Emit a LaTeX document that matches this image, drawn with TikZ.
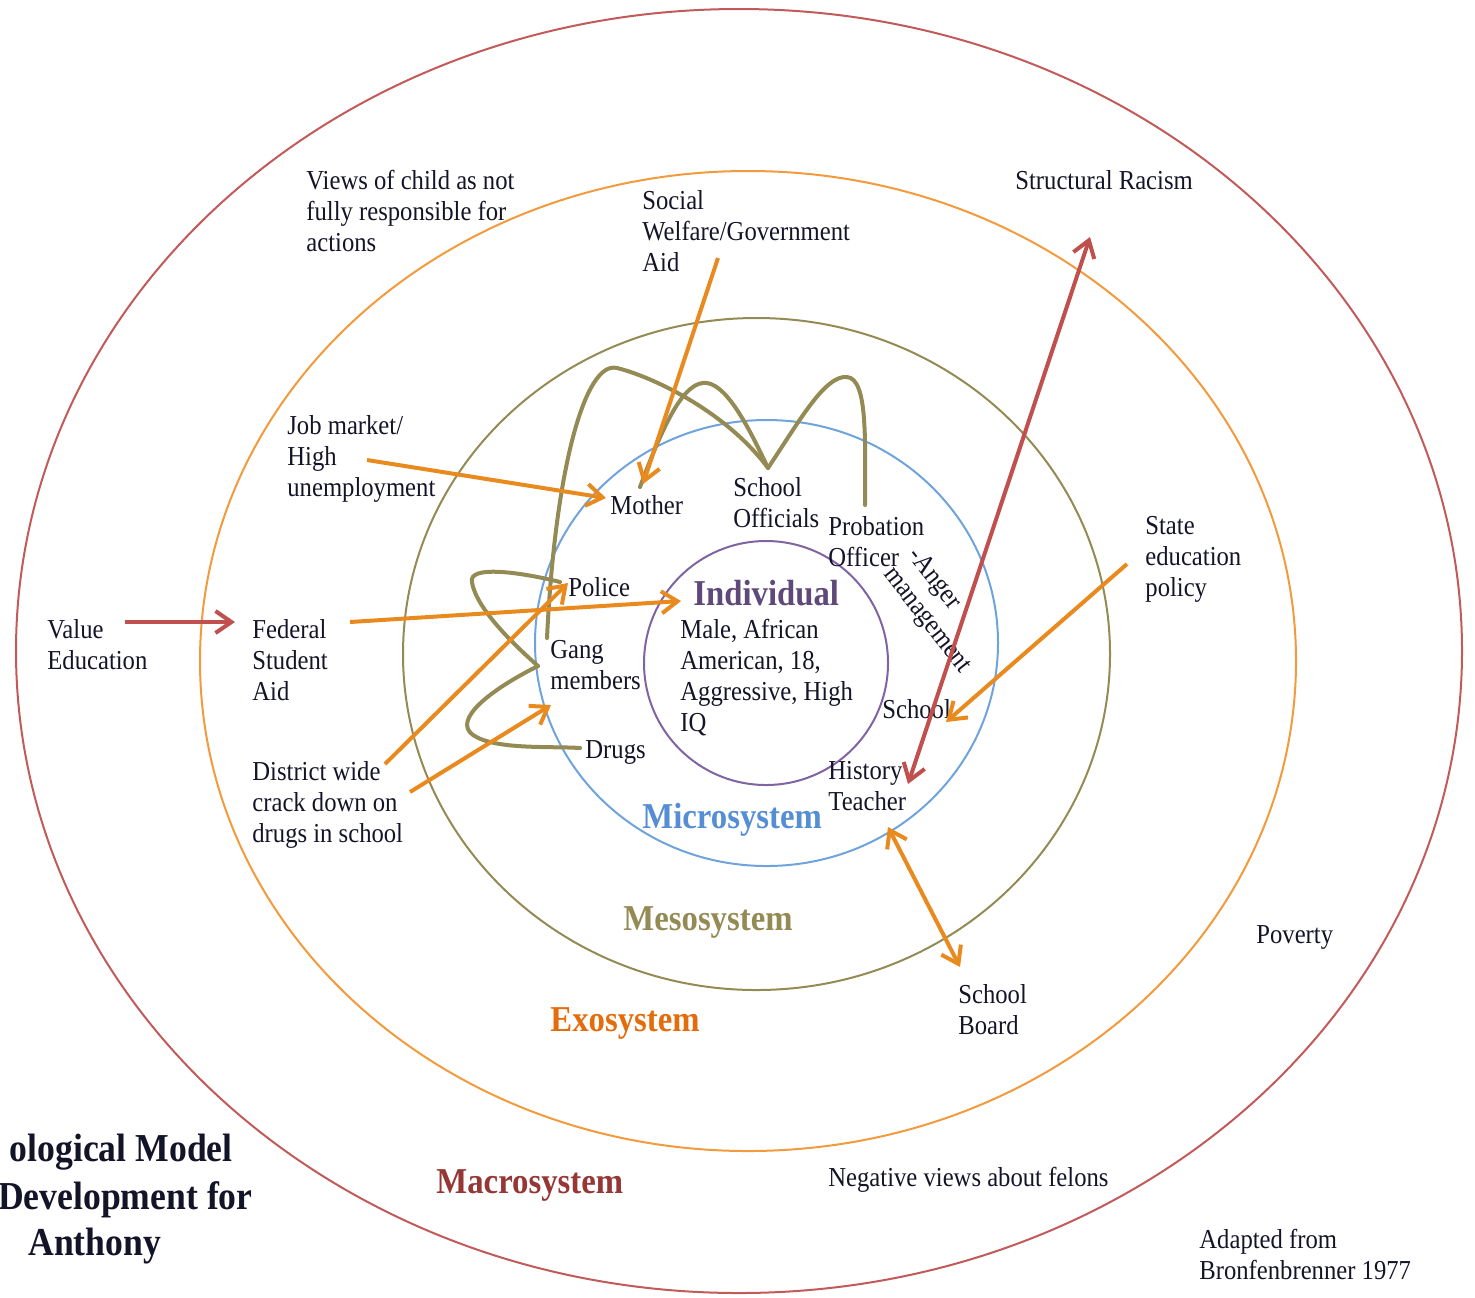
\documentclass[tikz,border=0pt]{standalone}
\usepackage{fontspec}
\setmainfont{Liberation Serif}[FakeStretch=0.9]
\usetikzlibrary{arrows.meta}
\definecolor{macroC}{HTML}{C25A5A}
\definecolor{macroT}{HTML}{953735}
\definecolor{redA}{HTML}{C0504D}
\definecolor{exoC}{HTML}{F29A3C}
\definecolor{exoT}{HTML}{E46C0A}
\definecolor{orangeA}{HTML}{E98A1E}
\definecolor{mesoC}{HTML}{948A54}
\definecolor{microC}{HTML}{6FA3DC}
\definecolor{microT}{HTML}{558ED5}
\definecolor{indC}{HTML}{8064A2}
\definecolor{indT}{HTML}{5F497A}
\definecolor{txt}{HTML}{141428}
\begin{document}
\begin{tikzpicture}[x=0.5pt,y=-0.5pt,
  lbl/.style={font=\fontsize{13.7}{15.5}\selectfont, anchor=north west, inner sep=0pt, align=left, text=txt},
  sysl/.style={font=\fontsize{18.2}{22}\selectfont\bfseries, anchor=north west, inner sep=0pt},
  ttl/.style={font=\fontsize{19.8}{23.5}\selectfont\bfseries, inner sep=0pt, text=txt},
  ring/.style={line width=1pt},
  tipo/.style={-{Straight Barb[length=8pt,width=11pt]}},
  oarr/.style={draw=orangeA, line width=2pt, tipo},
  rarr/.style={draw=redA, line width=2pt, tipo},
  link/.style={draw=mesoC, line width=2pt, line cap=round}
]
\useasboundingbox (0,0) rectangle (1475,1297);

% system rings
\draw[ring, draw=macroC] (739,651) ellipse [x radius=723, y radius=642];
\draw[ring, draw=exoC] (748,661) ellipse [x radius=548, y radius=490];
\draw[ring, draw=mesoC] (756.5,654) ellipse [x radius=353.5, y radius=336];
\draw[ring, draw=microC] (766.5,643) ellipse [x radius=231.5, y radius=223];
\draw[ring, draw=indC] (766,663) ellipse [x radius=122, y radius=122];

% texts
\node[lbl] (views) at (306,170) {Views of child as not\\fully responsible for\\actions};
\node[lbl] (social) at (642,190) {Social\\Welfare/Government\\Aid};
\node[lbl] (racism) at (1015,170) {Structural Racism};
\node[lbl] (jobmarket) at (287,415) {Job market/\\High\\unemployment};
\node[lbl] (mother) at (610,495) {Mother};
\node[lbl] (officials) at (733,477) {School\\Officials};
\node[lbl] (probation) at (828,516) {Probation\\Officer};
\node[lbl, anchor=center, rotate=-52] (anger) at (939,611) {-Anger\\management};
\node[sysl, text=indT] (individual) at (693,580) {Individual};
\node[lbl] (info) at (680,619) {Male, African\\American, 18,\\Aggressive, High\\IQ};
\node[lbl] (police) at (568,577) {Police};
\node[lbl] (gang) at (550,640) {Gang\\members};
\node[lbl] (drugs) at (585,740) {Drugs};
\node[lbl] (school) at (882,699) {School};
\node[lbl] (history) at (828,761) {History\\Teacher};
\node[sysl, text=microT] (micro) at (642,803) {Microsystem};
\node[sysl, text=mesoC] (meso) at (623,906) {Mesosystem};
\node[sysl, text=exoT] (exo) at (550,1007) {Exosystem};
\node[sysl, text=macroT] (macro) at (436,1169) {Macrosystem};
\node[lbl] (value) at (47,619) {Value\\Education};
\node[lbl] (federal) at (252,619) {Federal\\Student\\Aid};
\node[lbl] (district) at (252,761) {District wide\\crack down on\\drugs in school};
\node[lbl] (state) at (1145,516) {State\\education\\policy};
\node[lbl] (board) at (958,984) {School\\Board};
\node[lbl] (poverty) at (1256,925) {Poverty};
\node[lbl] (negative) at (828,1167) {Negative views about felons};
\node[lbl] (adapted) at (1199,1229) {Adapted from\\Bronfenbrenner 1977};
\node[ttl, anchor=north east] (title1) at (233,1134) {ological Model};
\node[ttl, anchor=north east] (title2) at (253,1181) {Development for};
\node[ttl, anchor=north west] (title3) at (28,1228) {Anthony};

% mesosystem links (olive)
\coordinate (gangTop) at (547,638);
\coordinate (offTop) at (768,468);
\coordinate (motherTop) at (640,487);
\coordinate (probTop) at (865,505);
\coordinate (policeL) at (560,582);
\coordinate (gangL) at (538,666);
\coordinate (drugsL) at (580,748);
\draw[link] (gangTop) .. controls (555,470) and (585,360) .. (617,368)
  .. controls (650,376) and (725,410) .. (offTop);
\draw[link] (motherTop) .. controls (665,420) and (685,380) .. (707,383)
  .. controls (728,386) and (750,430) .. (offTop);
\draw[link] (offTop) .. controls (800,420) and (825,375) .. (847,377)
  .. controls (868,379) and (865,440) .. (probTop);
\draw[link] (policeL) .. controls (520,572) and (468,565) .. (472,582)
  .. controls (476,610) and (520,650) .. (gangL);
\draw[link] (gangL) .. controls (490,690) and (452,720) .. (473,735)
  .. controls (495,750) and (550,746) .. (drugsL);

% arrows
\coordinate (valueOut) at (125,622);
\coordinate (federalIn) at (235,622);
\coordinate (federalOut) at (350,622);
\coordinate (indIn) at (681,601);
\coordinate (jobOut) at (367,460);
\coordinate (motherInL) at (606,498);
\coordinate (socialOut) at (718,258);
\coordinate (motherInT) at (643,484);
\coordinate (distOutA) at (385,764);
\coordinate (policeIn) at (568,583);
\coordinate (distOutB) at (410,792);
\coordinate (gangIn) at (551,705);
\coordinate (stateOut) at (1127,564);
\coordinate (schoolIn) at (946,722);
\coordinate (histB) at (888,827);
\coordinate (boardT) at (960,967);
\coordinate (racismB) at (1090,237);
\coordinate (histR) at (908,784);

\draw[rarr] (valueOut) -- (federalIn);
\draw[oarr] (federalOut) -- (indIn);
\draw[oarr] (jobOut) -- (motherInL);
\draw[oarr] (socialOut) -- (motherInT);
\draw[oarr] (distOutA) -- (policeIn);
\draw[oarr] (distOutB) -- (gangIn);
\draw[oarr] (stateOut) -- (schoolIn);
\draw[oarr, {Straight Barb[length=8pt,width=11pt]}-{Straight Barb[length=8pt,width=11pt]}] (histB) -- (boardT);
\draw[rarr, {Straight Barb[length=8pt,width=11pt]}-{Straight Barb[length=8pt,width=11pt]}] (racismB) -- (histR);
\end{tikzpicture}
\end{document}
